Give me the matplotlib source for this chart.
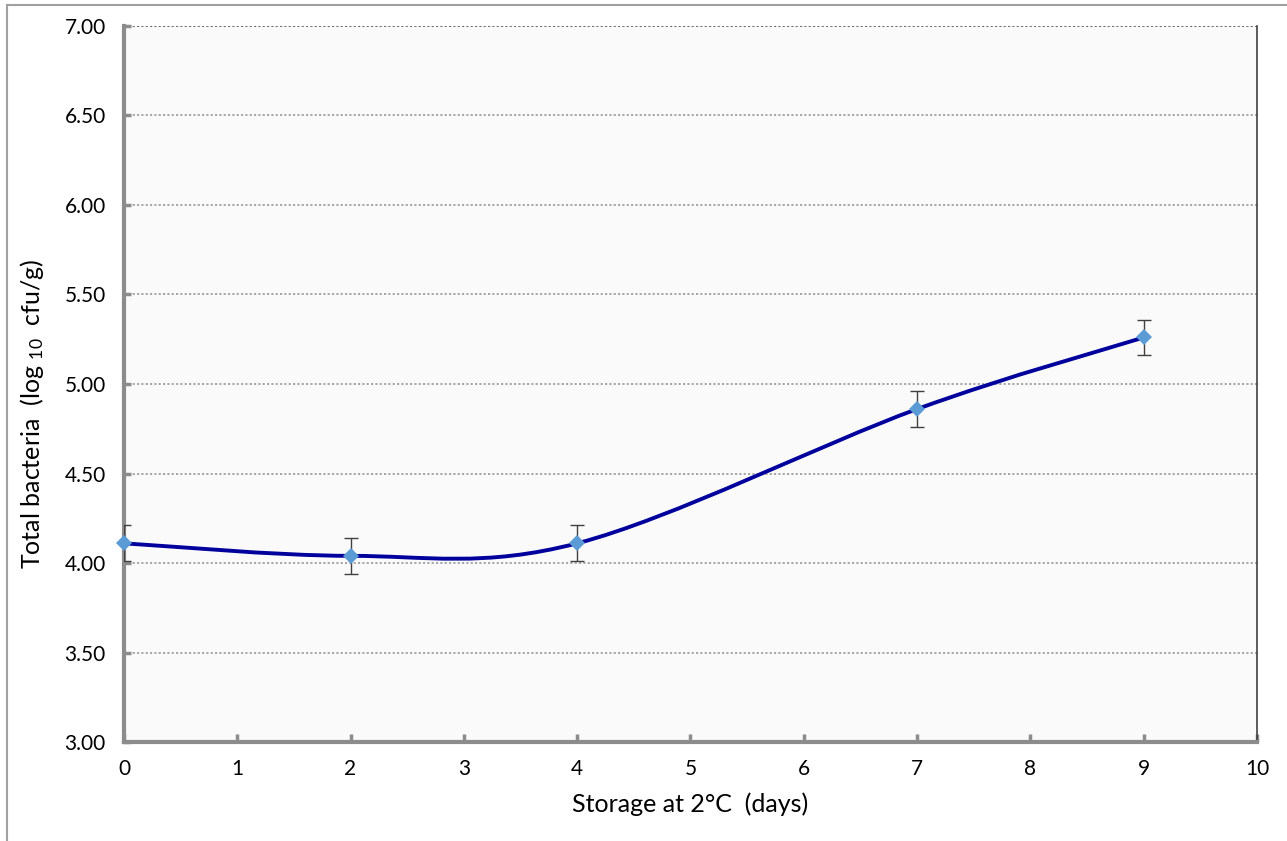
"""
Total bacteria during storage at 2°C — smoothed line with error bars.
"""
import matplotlib
matplotlib.use("Agg")
import matplotlib.pyplot as plt
from matplotlib.path import Path
from matplotlib.patches import PathPatch
from matplotlib.lines import Line2D

plt.rcParams["font.family"] = ["Lato", "DejaVu Sans"]
plt.rcParams["mathtext.default"] = "regular"

# data
days = [0, 2, 4, 7, 9]
log_cfu = [4.11, 4.04, 4.11, 4.86, 5.26]
err = [0.10, 0.10, 0.10, 0.10, 0.10]

x_ticks = list(range(0, 11))
y_ticks = [3.0, 3.5, 4.0, 4.5, 5.0, 5.5, 6.0, 6.5, 7.0]

LINE = "#00009C"
MARKER = "#5B9BD5"
AXIS_GRAY = "#8C8C8C"


def smooth_path(xs, ys):
    """Excel-like smoothed line: Catmull-Rom segments as cubic Bezier curves."""
    pts = list(zip(xs, ys))
    verts = [pts[0]]
    codes = [Path.MOVETO]
    n = len(pts)
    for i in range(n - 1):
        p0 = pts[max(i - 1, 0)]
        p1 = pts[i]
        p2 = pts[i + 1]
        p3 = pts[min(i + 2, n - 1)]
        c1 = (p1[0] + (p2[0] - p0[0]) / 6, p1[1] + (p2[1] - p0[1]) / 6)
        c2 = (p2[0] - (p3[0] - p1[0]) / 6, p2[1] - (p3[1] - p1[1]) / 6)
        verts += [c1, c2, p2]
        codes += [Path.CURVE4] * 3
    return Path(verts, codes)


fig = plt.figure(figsize=(12.87, 8.41), dpi=100)
ax = fig.add_axes([0.0963, 0.1177, 0.8804, 0.8514])
ax.set_facecolor("#FAFAFA")

# grid lines (dotted)
for y in y_ticks[1:-1]:
    ax.axhline(y, color="#A0A0A0", linestyle=(0, (1.2, 1.2)), linewidth=1.3, zorder=1)
ax.axhline(7.0, color="#606060", linestyle=(0, (1.2, 1.2)), linewidth=1.3, zorder=1)

ax.add_patch(PathPatch(smooth_path(days, log_cfu), facecolor="none",
                       edgecolor=LINE, linewidth=2.8, zorder=3))
ax.errorbar(days, log_cfu, yerr=err, fmt="none", ecolor="#404040",
            elinewidth=1.0, capsize=5, capthick=1.0, zorder=4)
ax.plot(days, log_cfu, linestyle="none", marker="D", markersize=8.5,
        color=MARKER, markeredgewidth=0, zorder=5, clip_on=False)

ax.set_xlim(0, 10)
ax.set_ylim(3, 7)
ax.set_xticks(x_ticks)
ax.set_yticks(y_ticks)
ax.set_yticklabels([f"{v:.2f}" for v in y_ticks])

ax.tick_params(axis="x", direction="in", length=6, width=2.5, color=AXIS_GRAY,
               labelsize=15, pad=12)
ax.tick_params(axis="y", direction="in", length=5, width=2.5, color=AXIS_GRAY,
               labelsize=15, pad=13)

ax.spines["left"].set_color(AXIS_GRAY)
ax.spines["left"].set_linewidth(3)
ax.spines["bottom"].set_color(AXIS_GRAY)
ax.spines["bottom"].set_linewidth(3)
ax.spines["right"].set_color("#404040")
ax.spines["right"].set_linewidth(1.2)
ax.spines["top"].set_visible(False)

ax.set_xlabel("Storage at 2°C  (days)", fontsize=18, labelpad=10)
ax.set_ylabel("Total bacteria  (log $_{10}$  cfu/g)", fontsize=18)
ax.yaxis.set_label_coords(-0.069, 0.458)

# outer chart border (left and top only visible in the crop)
fig.add_artist(Line2D([0.0055, 0.0055], [0.0, 0.994], color="#A0A0A0", linewidth=1.5))
fig.add_artist(Line2D([0.0055, 1.0], [0.994, 0.994], color="#A0A0A0", linewidth=1.5))

fig.savefig("out.png", dpi=100)
plt.close(fig)
